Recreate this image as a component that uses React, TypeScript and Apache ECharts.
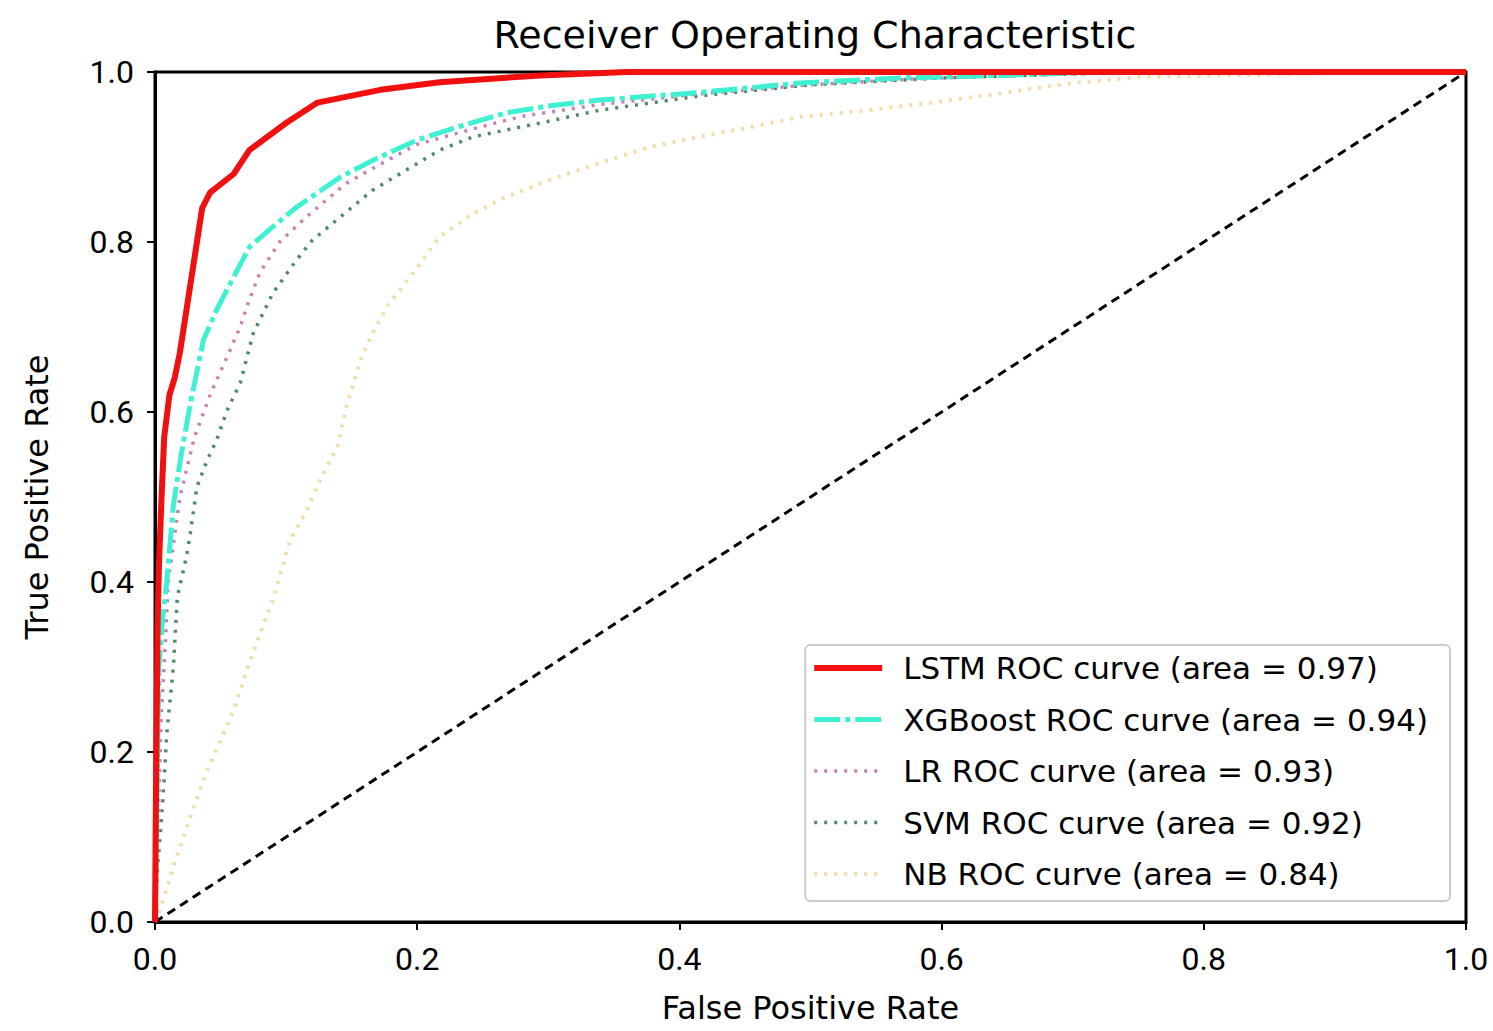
import React, { useEffect, useRef } from "react";
import * as echarts from "echarts";

const title = "Receiver Operating Characteristic";
const xName = "False Positive Rate";
const yName = "True Positive Rate";

const lstmName = "LSTM ROC curve (area = 0.97)";
const lstmFpr = [0, 0.001, 0.002, 0.003, 0.005, 0.007, 0.011, 0.015, 0.019, 0.025, 0.036, 0.042, 0.06, 0.072, 0.1, 0.124, 0.172, 0.217, 0.294, 0.36, 0.45, 1.0];
const lstmTpr = [0, 0.2, 0.35, 0.42, 0.5, 0.57, 0.62, 0.64, 0.67, 0.73, 0.84, 0.858, 0.88, 0.908, 0.94, 0.964, 0.979, 0.988, 0.996, 1.0, 1.0, 1.0];

const xgbName = "XGBoost ROC curve (area = 0.94)";
const xgbFpr = [0, 0.001, 0.003, 0.006, 0.009, 0.014, 0.02, 0.027, 0.037, 0.047, 0.055, 0.072, 0.09, 0.108, 0.124, 0.141, 0.166, 0.2, 0.23, 0.268, 0.3, 0.339, 0.416, 0.492, 0.568, 0.645, 0.72, 1.0];
const xgbTpr = [0, 0.1, 0.3, 0.36, 0.4, 0.49, 0.55, 0.61, 0.685, 0.72, 0.744, 0.794, 0.818, 0.841, 0.858, 0.876, 0.896, 0.92, 0.935, 0.952, 0.96, 0.967, 0.976, 0.987, 0.993, 0.996, 1.0, 1.0];

const lrName = "LR ROC curve (area = 0.93)";
const lrFpr = [0, 0.002, 0.005, 0.008, 0.01, 0.019, 0.03, 0.042, 0.055, 0.065, 0.07, 0.08, 0.095, 0.113, 0.125, 0.145, 0.17, 0.2, 0.24, 0.28, 0.34, 0.42, 0.5, 0.58, 0.66, 0.75, 1.0];
const lrTpr = [0, 0.1, 0.25, 0.33, 0.4, 0.5, 0.57, 0.62, 0.665, 0.7, 0.724, 0.764, 0.8, 0.826, 0.842, 0.868, 0.89, 0.915, 0.932, 0.948, 0.962, 0.975, 0.985, 0.992, 0.996, 1.0, 1.0];

const svmName = "SVM ROC curve (area = 0.92)";
const svmFpr = [0, 0.002, 0.006, 0.009, 0.014, 0.017, 0.024, 0.027, 0.032, 0.04, 0.047, 0.055, 0.065, 0.075, 0.09, 0.108, 0.12, 0.141, 0.166, 0.192, 0.217, 0.243, 0.294, 0.339, 0.416, 0.5, 0.6, 0.75, 1.0];
const svmTpr = [0, 0.065, 0.143, 0.222, 0.3, 0.382, 0.43, 0.458, 0.512, 0.544, 0.567, 0.602, 0.634, 0.693, 0.74, 0.779, 0.802, 0.829, 0.861, 0.885, 0.908, 0.924, 0.94, 0.955, 0.972, 0.985, 0.993, 1.0, 1.0];

const nbName = "NB ROC curve (area = 0.84)";
const nbFpr = [0, 0.005, 0.014, 0.027, 0.04, 0.05, 0.06, 0.07, 0.082, 0.09, 0.103, 0.116, 0.126, 0.139, 0.146, 0.156, 0.166, 0.177, 0.2, 0.217, 0.243, 0.268, 0.301, 0.339, 0.378, 0.416, 0.454, 0.492, 0.543, 0.593, 0.645, 0.7, 0.75, 0.85, 0.92, 1.0];
const nbTpr = [0, 0.02, 0.065, 0.124, 0.179, 0.214, 0.249, 0.296, 0.347, 0.379, 0.449, 0.485, 0.52, 0.559, 0.606, 0.658, 0.693, 0.724, 0.77, 0.806, 0.834, 0.853, 0.873, 0.893, 0.912, 0.924, 0.935, 0.947, 0.955, 0.964, 0.975, 0.987, 0.994, 0.997, 1.0, 1.0];

const chanceFpr = [0, 1];
const chanceTpr = [0, 1];

const axisTicks = [0, 0.2, 0.4, 0.6, 0.8, 1.0];

const zip = (xs: number[], ys: number[]) => xs.map((x, i) => [x, ys[i]]);

const FONT = "DejaVu Sans";

type Style = { color: string; width: number; type: any };
const styles: Record<string, Style> = {
  chance: { color: "#000", width: 3, type: [9, 6] },
  [lstmName]: { color: "#f01010", width: 6, type: "solid" },
  [xgbName]: { color: "#3ff0d2", width: 5, type: [26, 5, 5, 5] },
  [lrName]: { color: "#c77fb7", width: 3.5, type: [3, 7] },
  [svmName]: { color: "#4f8a64", width: 3.5, type: [3, 7] },
  [nbName]: { color: "#f3dca8", width: 4, type: [3, 7] },
};

export default function App() {
  const ref = useRef<HTMLDivElement>(null);
  useEffect(() => {
    if (!ref.current) return;
    const chart = echarts.init(ref.current, null, { renderer: "svg" });
    const axisCommon = {
      type: "value",
      min: axisTicks[0],
      max: axisTicks[axisTicks.length - 1],
      interval: 0.2,
      nameLocation: "middle",
      nameTextStyle: { fontFamily: FONT, fontSize: 32, color: "#000" },
      axisLine: { show: true, lineStyle: { color: "#000", width: 3 } },
      axisTick: { show: true, length: 8, lineStyle: { color: "#000", width: 2 } },
      axisLabel: {
        fontFamily: "Roboto",
        fontSize: 32,
        color: "#000",
        margin: 21,
        formatter: (v: number) => v.toFixed(1),
      },
      splitLine: { show: false },
    };
    const line = (name: string, data: number[][]) => ({
      name,
      type: "line",
      data,
      symbol: "none",
      showSymbol: false,
      lineStyle: { ...styles[name] },
      itemStyle: { color: styles[name].color },
    });
    const legendNames = [lstmName, xgbName, lrName, svmName, nbName];
    chart.setOption({
      animation: false,
      backgroundColor: "#fff",
      title: {
        text: title,
        left: 810,
        top: 11,
        textAlign: "center",
        textStyle: { fontFamily: FONT, fontSize: 38, fontWeight: "normal", color: "#000" },
      },
      grid: {
        left: 155,
        right: 27,
        top: 72,
        bottom: 109,
        outerBoundsMode: "none",
        containLabel: false,
        show: true,
        borderColor: "#000",
        borderWidth: 3,
        backgroundColor: "transparent",
      },
      xAxis: { ...axisCommon, name: xName, nameGap: 70 },
      yAxis: { ...axisCommon, name: yName, nameGap: 102 },
      legend: {
        data: legendNames.map((n) => ({
          name: n,
          itemStyle: { opacity: 0 },
          lineStyle: { color: styles[n].color, width: styles[n].width, type: styles[n].type },
        })),
        orient: "vertical",
        right: 43,
        top: 645,
        itemWidth: 68,
        itemHeight: 12,
        itemGap: 15.5,
        padding: [5, 22, 9, 6],
        backgroundColor: "#fff",
        borderColor: "#ccc",
        borderWidth: 2,
        borderRadius: 5,
        textStyle: { fontFamily: FONT, fontSize: 31, color: "#000", lineHeight: 36, padding: [0, 0, 0, 16] },
      },
      series: [
        line("chance", zip(chanceFpr, chanceTpr)),
        line(nbName, zip(nbFpr, nbTpr)),
        line(svmName, zip(svmFpr, svmTpr)),
        line(lrName, zip(lrFpr, lrTpr)),
        line(xgbName, zip(xgbFpr, xgbTpr)),
        line(lstmName, zip(lstmFpr, lstmTpr)),
      ],
    });
    return () => chart.dispose();
  }, []);
  return (
    <div
      ref={ref}
      style={{ position: "fixed", left: 0, top: 0, width: 1493, height: 1031 }}
    />
  );
}
